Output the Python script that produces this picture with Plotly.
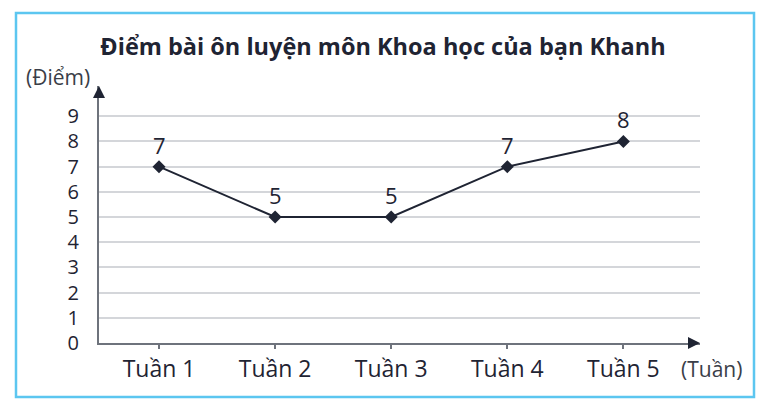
import plotly.graph_objects as go

weeks = ["Tuần 1", "Tuần 2", "Tuần 3", "Tuần 4", "Tuần 5"]
scores = [7, 5, 5, 7, 8]
y_ticks = [0, 1, 2, 3, 4, 5, 6, 7, 8, 9]

dark = "#1f2433"
axis_col = "#6e737c"
grid_col = "#d4d6da"
font_fam = "Open Sans, Noto Sans, DejaVu Sans, sans-serif"

xs = list(range(len(weeks)))

fig = go.Figure()
fig.add_trace(go.Scatter(
    x=xs, y=scores, mode="lines+markers",
    line=dict(color=dark, width=2),
    marker=dict(symbol="diamond", size=10, color=dark),
    cliponaxis=False, hoverinfo="skip",
))
for xv, yv in zip(xs, scores):
    fig.add_annotation(x=xv, y=yv, text=str(yv), showarrow=False, yshift=22,
                       xanchor="center", yanchor="middle",
                       font=dict(size=22, color=dark, family=font_fam))

fig.update_layout(
    width=766, height=416,
    margin=dict(l=99, r=66, t=86, b=73, autoexpand=False),
    paper_bgcolor="white", plot_bgcolor="white",
    showlegend=False,
    font=dict(family=font_fam, color=dark),
    title=dict(text="<b>Điểm bài ôn luyện môn Khoa học của bạn Khanh</b>",
               x=0.5, xanchor="center", y=1 - 47 / 416, yanchor="middle",
               font=dict(size=23.5, color=dark, family=font_fam)),
    xaxis=dict(range=[-0.517, 4.66], tickmode="array", tickvals=xs, ticktext=weeks,
               showgrid=False, zeroline=False, showline=True, linecolor=axis_col, linewidth=2,
               ticks="outside", ticklen=4, tickwidth=2, tickcolor=axis_col, automargin=False,
               tickfont=dict(size=23, color=dark), ticklabelstandoff=0, fixedrange=True),
    yaxis=dict(range=[0, 10.2], tickmode="array", tickvals=y_ticks,
               ticktext=[str(v) for v in y_ticks], automargin=False,
               showgrid=True, gridcolor=grid_col, gridwidth=2, zeroline=False,
               showline=True, linecolor=axis_col, linewidth=2,
               tickfont=dict(size=20, color=dark), ticklabelstandoff=14, fixedrange=True),
)

# frame
fig.add_shape(type="rect", xref="paper", yref="paper",
              x0=(16 - 99) / 601, x1=(754 - 99) / 601,
              y0=(343 - 397) / 257, y1=(343 - 13) / 257,
              line=dict(color="#5cc6f0", width=2.5), fillcolor="rgba(0,0,0,0)", layer="below")

# axis arrows
fig.add_annotation(xref="paper", yref="paper", x=0, y=1, ax=0, ay=12, text="",
                   showarrow=True, arrowhead=2, arrowsize=1.2, arrowwidth=2, arrowcolor=dark)
fig.add_annotation(xref="paper", yref="paper", x=1, y=0, ax=-12, ay=0, text="",
                   showarrow=True, arrowhead=2, arrowsize=1.2, arrowwidth=2, arrowcolor=dark)

# axis titles
fig.add_annotation(xref="paper", yref="paper", x=(58 - 99) / 601, y=(343 - 77) / 257,
                   text="(Điểm)", showarrow=False, xanchor="center", yanchor="middle",
                   font=dict(size=21, color="#3a3e48", family=font_fam))
fig.add_annotation(xref="paper", yref="paper", x=(711 - 99) / 601, y=(343 - 369) / 257,
                   text="(Tuần)", showarrow=False, xanchor="center", yanchor="middle",
                   font=dict(size=21, color="#3a3e48", family=font_fam))

fig.write_html("out.html", config={"displayModeBar": False},
               post_script="document.body.style.margin='0';document.body.style.padding='0';")
